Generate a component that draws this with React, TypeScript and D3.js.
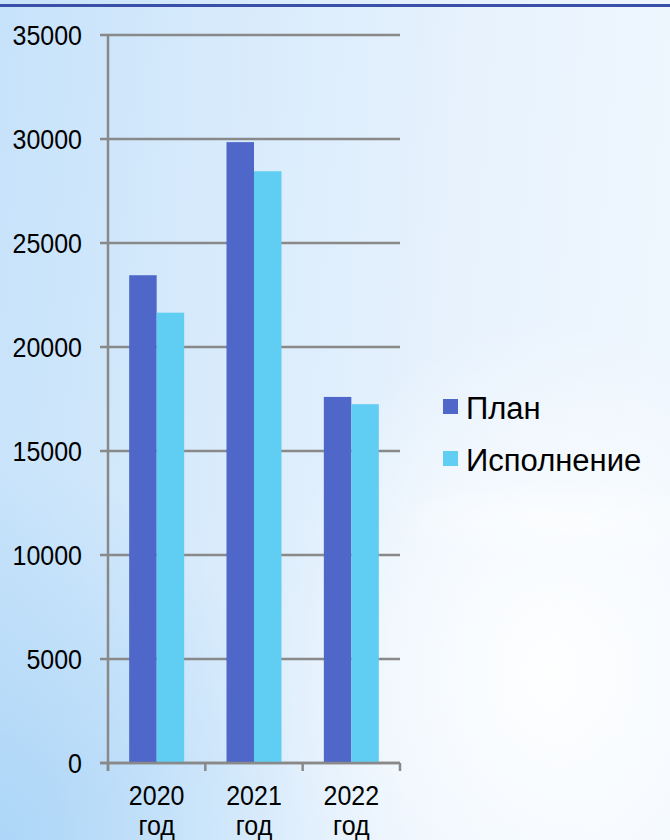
import React from "react";
import * as d3 from "d3";

const categories = ["2020", "2021", "2022"];
const categorySuffix = "год";
const seriesNames = ["План", "Исполнение"];
const planValues = [23450, 29850, 17600];
const execValues = [21650, 28450, 17250];
const yTicks = [0, 5000, 10000, 15000, 20000, 25000, 30000, 35000];
const seriesColors = ["#4f67c8", "#60cdf3"];

export default function App() {
  const W = 670;
  const H = 840;
  const y = d3.scaleLinear().domain([0, 35000]).range([763, 35]);
  const x = d3.scaleBand<string>().domain(categories).range([108, 400]).paddingInner(0).paddingOuter(0);
  const xs = d3.scaleBand<string>().domain(seriesNames).range([0, x.bandwidth()]).paddingInner(0).paddingOuter(0.77);
  const series = [planValues, execValues];
  const font = "'Liberation Sans', Arial, sans-serif";
  const grid = "#898989";
  const bandEdges = [...categories.map((c) => x(c) as number), 400];

  return (
    <svg width={W} height={H} style={{ position: "absolute", left: 0, top: 0 }} xmlns="http://www.w3.org/2000/svg">
      <defs>
        <linearGradient id="bg" x1="0" y1="0" x2="1" y2="0.1">
          <stop offset="0" stopColor="#c6e2fa" />
          <stop offset="0.4" stopColor="#daecfc" />
          <stop offset="0.7" stopColor="#e7f2fd" />
          <stop offset="1" stopColor="#eef6fe" />
        </linearGradient>
        <radialGradient id="hl" cx="0.82" cy="0.8" r="0.42">
          <stop offset="0" stopColor="#ffffff" stopOpacity="0.95" />
          <stop offset="0.6" stopColor="#ffffff" stopOpacity="0.45" />
          <stop offset="1" stopColor="#ffffff" stopOpacity="0" />
        </radialGradient>
        <radialGradient id="dk" cx="0" cy="1" r="0.45">
          <stop offset="0" stopColor="#a9d4f7" stopOpacity="0.9" />
          <stop offset="1" stopColor="#a9d4f7" stopOpacity="0" />
        </radialGradient>
        <radialGradient id="band" cx="0.5" cy="0.5" r="0.5">
          <stop offset="0" stopColor="#ffffff" stopOpacity="0.55" />
          <stop offset="1" stopColor="#ffffff" stopOpacity="0" />
        </radialGradient>
      </defs>
      <rect x={0} y={0} width={W} height={H} fill="url(#bg)" />
      <rect x={0} y={0} width={W} height={H} fill="url(#dk)" />
      <rect x={0} y={0} width={W} height={H} fill="url(#hl)" />
      <ellipse cx={560} cy={520} rx={180} ry={40} fill="url(#band)" />
      <rect x={0} y={4} width={W} height={3} fill="#3a4fa8" />

      {yTicks.map((t) => (
        <g key={t}>
          <line x1={100} x2={400} y1={y(t)} y2={y(t)} stroke={grid} strokeWidth={2.5} />
          <text
            transform={`translate(82,${y(t) + 10}) scale(1,1.12)`}
            textAnchor="end"
            fontFamily={font}
            fontSize={25}
            fill="#000"
          >
            {t}
          </text>
        </g>
      ))}

      {categories.map((c, i) =>
        series.map((vals, s) => (
          <rect
            key={c + s}
            x={(x(c) as number) + (xs(seriesNames[s]) as number)}
            y={y(vals[i])}
            width={xs.bandwidth()}
            height={y(0) - y(vals[i])}
            fill={seriesColors[s]}
          />
        ))
      )}

      <line x1={108} x2={108} y1={y(35000)} y2={771} stroke={grid} strokeWidth={2.5} />
      <line x1={100} x2={400} y1={y(0)} y2={y(0)} stroke={grid} strokeWidth={2.5} />
      {bandEdges.map((e, i) => (
        <line key={i} x1={e} x2={e} y1={y(0)} y2={771} stroke={grid} strokeWidth={2.5} />
      ))}

      {categories.map((c) => {
        const cx = (x(c) as number) + x.bandwidth() / 2;
        return (
          <g key={c}>
            <text transform={`translate(${cx},805) scale(1,1.1)`} textAnchor="middle" fontFamily={font} fontSize={25} fill="#000">
              {c}
            </text>
            <text transform={`translate(${cx},835) scale(1,1.1)`} textAnchor="middle" fontFamily={font} fontSize={25} fill="#000">
              {categorySuffix}
            </text>
          </g>
        );
      })}

      {seriesNames.map((n, i) => (
        <g key={n}>
          <rect x={443} y={399 + i * 52} width={15} height={15} fill={seriesColors[i]} />
          <text x={466} y={419 + i * 52} fontFamily={font} fontSize={31} fill="#000">
            {n}
          </text>
        </g>
      ))}
    </svg>
  );
}
